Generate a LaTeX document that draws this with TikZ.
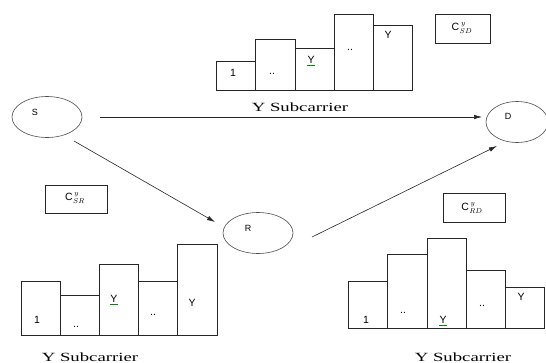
\documentclass[tikz,border=0pt]{standalone}
\usepackage{fontspec}
\setmainfont{Liberation Serif}
\setsansfont{Liberation Sans}
\usetikzlibrary{shapes.geometric,arrows.meta,calc}
\begin{document}
\begin{tikzpicture}[x=1pt,y=-1pt,
  ell/.style={ellipse,draw=black!70,line width=0.6pt,inner sep=0pt,minimum width=70pt,minimum height=41pt},
  nlab/.style={font=\sffamily\fontsize{9}{10}\selectfont,inner sep=0pt},
  blab/.style={font=\sffamily\fontsize{10.5}{11}\selectfont,inner sep=0pt},
  sub/.style={font=\fontsize{12.5}{14}\selectfont,xscale=1.5,inner sep=0pt},
  cbox/.style={draw=black!85,line width=0.7pt},
  ctext/.style={font=\fontsize{10.5}{11}\selectfont,inner sep=0pt},
  bar/.style={draw=black!85,line width=0.75pt},
  arr/.style={draw=black!85,line width=0.6pt,-{Latex[length=8pt,width=4.5pt]}},
  squig/.style={draw=green!55!black,line width=0.5pt}
]
\useasboundingbox (0,0) rectangle (546,362);

% nodes
\node[ell] (S) at (47,117) {};
\node[nlab] (Sl) at (35,112) {S};
\node[ell] (R) at (258,233) {};
\node[nlab] (Rl) at (248,228) {R};
\node[ell,minimum width=62pt] (D) at (517,122) {};
\node[nlab] (Dl) at (508,116) {D};

% connectors
\draw[arr] ($(S)+(53,0)$) -- ($(D)+(-35,-5)$);
\draw[arr] ($(S)+(27,24)$) -- ($(R)+(-43,-11)$);
\draw[arr] ($(R)+(54,4)$) -- ($(D)+(-20,24)$);

% channel boxes
\draw[cbox] (435,14) rectangle (490,43);
\node[ctext] (csd) at (462,28) {{\sffamily C}\,$^{y}_{\!SD}$};
\draw[cbox] (45,185) rectangle (107,213);
\node[ctext] (csr) at (75,198) {{\sffamily C}\,$^{y}_{\!SR}$};
\draw[cbox] (443,193) rectangle (505,222);
\node[ctext] (crd) at (472,208) {{\sffamily C}\,$^{y}_{\!RD}$};

% top chart
\draw[bar] (216,90) rectangle (255,61);
\draw[bar] (255,90) rectangle (295,39);
\draw[bar] (295,90) rectangle (334,48);
\draw[bar] (334,90) rectangle (373,14);
\draw[bar] (373,90) rectangle (412,25);
\node[blab] (t1) at (233,73) {1};
\node[blab] (t2) at (272,74) {..};
\node[blab] (t3) at (311,60) {Y};
\draw[squig] (307,65.5) -- (315,65.5);
\node[blab] (t4) at (350,50) {..};
\node[blab] (t5) at (388,35) {Y};
\node[sub] (ts) at (300,107) {Y Subcarrier};

% bottom-left chart
\draw[bar] (21,335) rectangle (60,281);
\draw[bar] (60,335) rectangle (99,295);
\draw[bar] (99,335) rectangle (138,264);
\draw[bar] (138,335) rectangle (177,281);
\draw[bar] (177,335) rectangle (217,244);
\node[blab] (l1) at (37,320) {1};
\node[blab] (l2) at (76,327) {..};
\node[blab] (l3) at (114,299) {Y};
\draw[squig] (110,304.5) -- (118,304.5);
\node[blab] (l4) at (153,315) {..};
\node[blab] (l5) at (192,303) {Y};
\node[sub,anchor=north] (ls) at (90,353) {Y Subcarrier};

% bottom-right chart
\draw[bar] (348,328) rectangle (387,281);
\draw[bar] (387,328) rectangle (427,254);
\draw[bar] (427,328) rectangle (466,238);
\draw[bar] (466,328) rectangle (505,270);
\draw[bar] (505,328) rectangle (544,287);
\node[blab] (r1) at (366,320) {1};
\node[blab] (r2) at (403,313) {..};
\node[blab] (r3) at (443,320) {Y};
\draw[squig] (439,325.5) -- (447,325.5);
\node[blab] (r4) at (482,306) {..};
\node[blab] (r5) at (521,297) {Y};
\node[sub,anchor=north] (rs) at (463,353) {Y Subcarrier};
\end{tikzpicture}
\end{document}
